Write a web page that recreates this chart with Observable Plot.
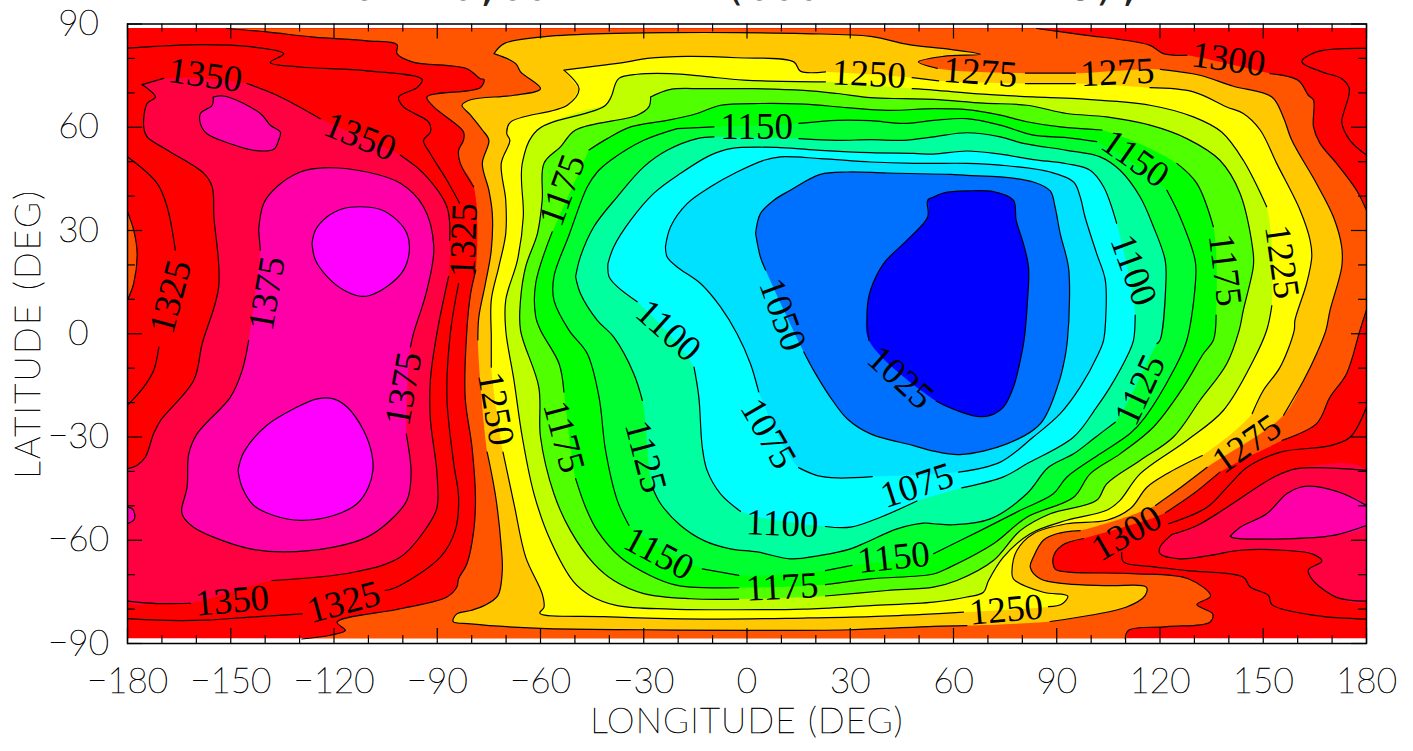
<!DOCTYPE html>
<html><head><meta charset="utf-8">
<style>html,body{margin:0;padding:0;background:#fff}svg{display:block}
[aria-label$="tick label"] text,[aria-label$="tick label"]{stroke:#000;stroke-width:.5px}
.axis-x-title text{letter-spacing:1.2px;stroke:#000;stroke-width:.5px}.axis-y-title text{letter-spacing:2.3px;stroke:#000;stroke-width:.5px}</style>
<script src="https://cdn.jsdelivr.net/npm/d3@7"></script>
<script src="https://cdn.jsdelivr.net/npm/@observablehq/plot@0.6"></script>
</head><body><div id="chart"></div>
<script>
const G = null; // a break in the drawn contour line (label gap or plot edge)
const c1025 = [[54.2,39.7],[57.1,40.9],[63.9,41.5],[71.6,41.3],[77.4,38.8],[78.2,33],[80.3,26.2],[81.8,19.4],[81.5,9.7],[80.5,-1.9],[79.6,-6.8],[77.4,-15.5],[74.5,-21.3],[70.7,-23.7],[66.8,-24],[61,-22.3],[55,-19.6],G,[35.4,-1.9],[34.9,6.9],[35.9,12.7],[39.7,20.4],[46.5,27.2],[52.5,33.9],[52.5,38.8]];
const c1050 = [[2.5,29.1],[3.9,34.9],[7.8,38.8],[12.6,41.7],[21.3,46.3],[29.1,47],[40.7,46.7],[59.1,46.3],[63.9,46],[73.6,45.6],[83.2,44.1],[88.1,41.5],[89.5,36.9],[91,29.1],[93.4,19.4],[93.7,9.7],[93.1,-1.9],[92.4,-6.8],[90.5,-14.5],[85.2,-26.2],[75.5,-32],[61.9,-35.1],[54.2,-34.1],[48.4,-32.5],[35.9,-29.1],[29.1,-24.7],[24.2,-18.4],[19.4,-10.7],[16.5,-5.3],G,[5.4,18.5],[3.9,22.3]];
const c1075 = [[-23.7,25.3],[-22.2,31.1],[-17.4,37.8],[-10.6,42.7],[-2.9,47],[4.9,50.4],[9.7,51.4],[21.3,50.9],[35.9,49.9],[48.5,49.5],[54.2,49.5],[63.9,49.5],[73.6,49],[88.1,47],[94.9,44.1],[96.8,39.8],[98.2,34],[101.6,23.3],[104.1,15.6],[104.2,3.9],[103.6,-1.9],[102.1,-5.8],[96.8,-15.5],[91,-23.2],[83.2,-30],[73.6,-37.3],[61.5,-40.2],G,[36.4,-41.5],[26.2,-41.9],[20.4,-41.2],[15,-38.9],G,[3.4,-16.9],[1,-8.7],[-2.9,0],[-7.7,7.8],[-13.5,14.6],[-20.3,19.4],[-23.2,22.3]];
const c1100 = [[-40.4,20.4],[-38.7,25.3],[-33.8,33],[-27.1,40.8],[-19.3,46.6],[-10.6,51.9],[-4.8,53.8],[9.7,54.1],[21.3,53.3],[35.9,52.6],[48.5,52.4],[54.2,52.2],[63.9,53.1],[73.6,52.2],[83.2,50.6],[92.9,49.4],[99.7,47.5],[103.6,42.7],[107.4,32.1],G,[112.8,5.4],[112.3,-1.9],[110.8,-5.8],[105.5,-15.5],[101.6,-21.3],[94.9,-30],[81.3,-37.8],[74.5,-41.6],[62.4,-44.8],G,[49.4,-48.6],[38.8,-53.3],[30.1,-56.2],[22.8,-56],G,[-1.9,-51.6],[-7.7,-46.5],[-11.6,-39.7],[-13,-32.9],[-14,-18.4],[-15.4,-9.7],G,[-31.9,9.3],[-37.7,13.7],[-40.1,16.6]];
const c1125 = [[-49.8,16.6],[-48.4,22.4],[-44.5,31.1],[-37.7,39.8],[-30,48.5],[-23.2,53.3],[-14.5,56.7],[-9.6,57.2],G,[15.1,56.7],[26.2,56.2],[35.9,56.4],[45.5,56.2],[54.2,57.2],[63.9,58.4],[73.6,57.2],[80.3,55.3],[92.9,53.3],[102.6,51.4],[108.4,47.5],[114.2,39.8],[118.1,31.1],[121.5,21.4],[121.7,14.6],[120,-1.9],[119.1,-2.9],G,[107,-25.7],[100.7,-30.5],[94.9,-34.9],[87.6,-38.8],[81.3,-46.5],[70.7,-53.8],[60,-55.5],[54.2,-55.2],[51.3,-55],[43.6,-56.7],[34.9,-60.5],[30.1,-62.5],[21.3,-64.4],[12.6,-65.4],[3,-63.4],[-4.8,-62.5],[-12.5,-60.1],[-19.3,-55.7],[-25.1,-49.4],[-27.5,-44.6],G,[-30.4,-19.4],[-32.9,-11.6],[-38.7,-1],[-43.5,3.9],[-48.4,11.7]];
const c1150 = [[-20.3,59.6],[-9.6,60.1],G,[15.1,61.1],[26.2,62],[35.9,61.9],[45.5,61.1],[54.2,62],[63.9,62.5],[73.6,60.6],[83.2,57.7],[92.9,57],[101.6,55.8],G,[122,41.7],[125.8,34],[130.2,21.4],[130.4,16.6],[127.8,-1.9],[123.9,-10.7],[115.7,-24.2],[111.3,-29],[102.6,-34.9],[92.9,-41.7],[89,-46.5],[79.4,-51.3],[67.8,-57.2],[54.2,-63.9],G,[30.5,-67.3],[22.8,-68.8],G,[-2.4,-70.2],[-13,-68.3],G,[-34.3,-55.7],[-37.7,-48.4],[-41.1,-33.9],[-43,-18.4],[-46.4,-5.8],[-51.7,1],[-56.1,9.8],[-56.1,16.6],[-51.7,28.7],[-46.4,42.7],[-43.5,47],[-39.6,50.4],[-30,56.2]];
const c1175 = [[-45.9,53.4],[-40.6,56.7],[-33.8,60.1],[-23.2,62],[-14.5,64],[-7.7,66.4],[3.9,66.9],[16.5,66.7],[29.1,65.7],[40.7,64.9],[54.2,65.4],[63.9,65.1],[73.6,63.5],[81.3,61.6],[91,60.1],[103.1,59.2],G,[124.9,49.5],[130.7,43.7],[135.5,31.1],G,[136.3,5.4],[135.5,-1.9],[132.6,-5.8],[126.8,-15.5],[118.1,-27.1],[108.4,-34.9],[99.7,-40.7],[94.9,-47.5],[81.3,-53.3],[71.6,-61],[59,-67.8],[54.2,-69.8],[35.9,-71.2],[22.8,-72.9],G,[-2.4,-73.8],[-16.4,-73.6],[-21.2,-72.9],[-28,-70.3],[-36.7,-65],[-43.5,-57.2],[-46.9,-50.4],[-49.8,-42.1],G,[-53.2,-16.9],[-54.6,-8.7],[-60,1],[-61.4,5],[-61.4,14.6],[-56.6,29.6],G];
const c1200 = [[-28,68.8],[-22.2,71],[-12.5,71.2],[2,71.2],[16.5,70.7],[26.2,69.8],[35.9,68.6],[45.5,68.3],[54.2,68.1],[68.7,67],[81.3,66.4],[92.9,64],[104.5,63],[117.1,60.6],[127.8,56.7],[137.4,50.4],[143.3,40.7],[147.1,23.3],[147.1,19.4],[144.2,6.8],[143,1],[139.4,-8.7],[131.6,-19.4],[123.9,-30],[114.2,-36.8],[104.5,-43.6],[101.6,-48.4],[88.1,-52.3],[79.4,-57.2],[71.6,-65.9],[61,-71.7],[54.2,-73.6],[40.7,-74.6],[22.8,-76.2],G,[-2.4,-77.1],[-16.4,-77],[-30,-75.5],[-38.7,-71.7],[-44.5,-66.8],[-51.3,-57.2],[-56.1,-46.5],[-60,-30],[-60.5,-15.5],[-65.8,1],[-65.8,9.8],[-64.3,19.5],[-60.9,29.1],[-59.5,38.8],[-59,49.5],[-54.2,54.3],[-49.8,59.2],[-31.9,63.5],[-28.5,65.9]];
const c1225 = [[-38.7,71.2],[-37.2,74.2],[-31.9,75.4],[-22.2,75.6],[-12.5,74.8],[-0.9,73.7],[22.8,73.2],G,[48,71.2],[54.2,70.8],[68.7,69.6],[83.2,68.8],[95.8,68.3],[117.1,66.4],[129.7,63],[137.9,58.6],[144.2,50.4],[151,36.9],G,[152.5,8.2],[151,1],[147.1,-7.8],[138.4,-22.3],[127.8,-31],[114.2,-40.7],[108.4,-48.4],[104.5,-51.3],[92.9,-54.2],[82.3,-58.1],[74.5,-64.9],[70.2,-71.7],[68.7,-75.1],[63.9,-76.5],[54.2,-78],[35.9,-79],[16.5,-80],[-2.9,-80.2],[-22.2,-80],[-37.7,-79],[-45.5,-76.1],[-50.3,-72.2],[-57.1,-60.1],[-61.9,-46.5],[-65.3,-30],[-67.7,-13.6],[-70.1,1],[-70.1,9.8],[-66.7,21.4],[-65,34],[-65.3,49.5],[-60.9,59.2],[-41.1,66.4]];
const c1250 = [[-53.2,76.6],[-34.8,79],[-29,80],[-17.4,80.6],[-2.9,80.2],[13.6,79],[15.5,76.3],[22.8,76.1],G,[48,74.4],[55.7,73.5],G,[80.9,72.7],[95.4,72.7],G,[117.1,71.5],[129.7,70.3],[139.4,65.9],[144.2,64],[149.1,59.2],[153.9,49.5],[160.7,35.9],[163.6,27.2],[164.1,22.4],[162.6,14.6],[159.2,3.9],[159,1],[154.9,-9.7],[150,-16.5],[146.8,-23.2],G,[132.3,-35.4],[122,-40.7],[116.2,-44.6],[111.4,-50.8],[104.5,-54.2],[92.9,-55.2],[83.2,-58.1],[78.4,-63],[77,-68.8],[77.4,-71.2],[86.1,-75.1],[93.2,-76.2],[91.5,-78.5],[87.6,-79.3],G,[62.9,-80.9],[54.2,-81.4],[35.9,-82.2],[16.5,-82.6],[-12.5,-82.9],[-41.6,-82.2],[-60.2,-81.2],[-59,-79.5],[-59.5,-75.6],[-64.3,-64.9],[-67.7,-49.4],[-70.9,-34.4],G,[-74.3,-9.7],[-74.3,-1],[-74.3,9.8],[-72.1,19.5],[-70.1,29.1],[-70.1,38.8],[-71.4,49.5],[-68.9,56.2],[-69.8,58.2],[-68.7,61.5],[-52.2,66.4],[-48.8,71.2]];
const c1275 = [[-73.5,81.4],[-70.6,84.3],[-60,86.2],[-41.6,87.2],[-22.2,87.5],[-2.9,87.5],[16.5,87.2],[35.9,86.4],[45.5,84.3],[48.4,83.8],[59.1,82.6],[67.8,81.2],[57.1,80.6],[49.8,79],[55.3,77.1],G,[80.9,75.7],[95.4,75.7],G,[120.1,76.8],[131.6,75.1],[141.3,71.9],[152.5,68.8],[155.8,63],[158.3,56.2],[165.5,43.6],[170.4,33.9],[172.8,25.2],[172.8,19.4],[169.4,6.8],[168.2,1],[165.5,-5.8],[161.7,-13.6],[155.9,-23.7],G,[133.7,-38.8],[124.9,-45.5],[118.7,-49.9],G,[96.8,-57.2],[90,-58.1],[86.1,-60],[83.2,-64.9],[82.3,-67.8],[85.2,-71.2],[92.9,-72.7],[105.5,-73.2],[116,-73.6],[115.7,-76],[110.3,-79.4],[99.7,-81.8],[88.1,-83.6],G,[63.9,-84.8],[54.2,-85],[29.9,-86],[0,-86.2],[-30,-86],[-60,-85.6],[-80.3,-84.3],[-85.4,-83.6],[-84.3,-81.4],[-80.3,-80.4],[-76.4,-79],[-72.4,-76.1],[-71.1,-68.8],[-71.4,-62],[-73,-47.5],[-75.5,-34.4],G,[-78.2,-1.8],[-77.9,5],[-76,14.6],[-74.3,24.3],[-74,34.9],[-75,41.7],[-76.9,49.5],[-75,56.2],[-76.9,59.2],[-80.3,63.5],[-82.8,66.4],[-80.3,68],[-67.7,69.3],[-60,71.2],[-65.8,76.1],[-67.2,78.5]];
const c1300 = [[-151.1,88.7],[-139.5,87.7],[-125.9,86.2],[-110.4,85.1],[-101.7,84],[-101.7,81.4],[-97.3,79],[-81.4,77],[-77.5,74.1],[-76.4,73.9],[-77.5,71.5],[-93,68.8],[-91,65.9],[-82.4,58.7],[-82.4,56.2],[-83.8,53.3],[-83.3,49.5],[-79.4,42.7],G,[-78.8,18.5],[-80.3,11.7],[-81.4,1],[-81.9,-18.4],[-79.9,-33],[-78.9,-47.5],[-79.4,-57.2],[-81.4,-66.9],[-83.8,-71.2],[-84.3,-73.6],[-87.2,-76.5],[-100.7,-79.9],[-119.1,-83.8],[-116.7,-86.2],[-121.1,-87.6],[-129.3,-88.7],G,[109.9,-88.7],[110.8,-86.2],[122,-85.1],[134.5,-83.8],[135.3,-81.4],[130.7,-78.7],[134.7,-76.2],[128.2,-71.2],[112.3,-69.7],[92.9,-69.2],[89.5,-68.3],[89,-64.9],[91.5,-61.5],[97.8,-59.5],G,[121.6,-52],[129.7,-46.5],[137.4,-40.2],G,[155.5,-31],[165.5,-26.1],[169.4,-18.4],[174.2,-11.6],[178.1,1],[180,6.9],G,[180,35.9],[177.1,41.7],[171.3,49.5],[166.5,55.3],[164.6,60.1],[164.6,67.9],[163.1,69.3],[160.2,73.6],[152,75.6],G,[127.8,80.9],[121,81.4],[117.1,83.8],[108.4,85.5],[98.7,86.7],[84.2,88.7]];
const c1300west = [[-180,35.4],[-178.2,30.1],[-177.2,23.3],[-178.2,14.6],[-180,9.8]];
const c1325a = [[-180,83],[-158.8,84],[-144.3,83.4],[-134.6,81.4],[-138.5,78.8],[-129.8,77.5],[-110.4,76.4],[-94.4,73.9],[-95.9,71.5],[-101.2,68.8],[-99.8,65.9],[-92.5,61.5],[-92,58.6],[-94,56.2],[-92,52.3],[-87.2,44.6],[-83.5,37.9],G,[-83.8,14.6],[-86.2,0.1],[-87.2,-18.4],[-85.2,-37.8],[-83.8,-47.5],[-84.8,-57.2],[-89.1,-64.9],[-101.7,-73.6],[-105.1,-74.6],G,[-129.3,-81.4],[-145.3,-82.4],[-156.9,-83.2],[-168.5,-83.3],[-180,-82.8]];
const c1325b = [[-180,51.4],[-171.4,43.7],[-168.5,36.9],[-166.1,24.3],G,[-170.9,-3.9],[-172.4,-10.7],[-175.3,-15.5],[-180,-20.8]];
const c1325c = [[180,82.9],[165.5,81.9],[161.2,79],[167,76.1],[172.8,74.1],[175,71.2],[173.3,64],[172.8,61.5],[175.2,56.2],[180,51.9]];
const c1325d = [[180,-21.3],[175.3,-30],[169.5,-32.5],[155,-34.4],[145.3,-38.8],[140.4,-43.6],[133.7,-50.4],[122.5,-55.2],G,[108.9,-63.5],[109.4,-66.3],[117.1,-67.6],[127.8,-68.8],[144.2,-70.7],[146.2,-73.6],[151.5,-76],[152.5,-78.7],[165.5,-81.9],[180,-82.9]];
const c1350w = [[-175.8,72.4],[-169.5,74.2],G,[-145.3,72.7],[-136.6,69.3],[-124,62.5],G,[-100.7,51.9],[-94,46.6],[-87.2,36.9],[-86.4,27.2],G,[-86.7,16.6],[-90.1,0.1],[-92,-13.5],[-92,-24.8],[-90.1,-40.3],[-90.1,-50.6],[-93,-56.2],[-100.7,-64.9],[-114.3,-69.3],[-138,-71.7],G,[-161.7,-78.3],[-171.4,-78.4],[-180,-77.7],G,[-180,-39.2],[-177.2,-38.2],[-174.8,-35.8],[-172.4,-29],[-170.4,-25.2],[-160.8,-13.6],[-158.3,-2.9],[-153.5,13.7],[-154.9,34],[-155.4,42.7],[-157.8,46.6],[-168.5,53.4],[-174.3,57.2],[-175.3,60.1],[-174.3,66.9],[-171.9,68.8]];
const c1350e = [[123.5,-58.3],[130.8,-55.7],[139.5,-50.4],[153,-41.7],[159.8,-39.2],[180,-39.7],G,[180,-77.7],[171.3,-76.6],[164.1,-71.2],[163.1,-68.6],[167,-66.1],[164.6,-64.1],[155.8,-62.9],[143.3,-62.9],[134.6,-64.4],[125.8,-65.4],[120,-63.9],[120,-62]];
const c1375w = [[-141.9,30.1],[-140.4,37.9],[-136.6,42.7],[-129.8,47],[-123,48.2],[-110.4,47],[-100.7,43.7],[-94,36.9],[-91,25.3],[-93,12.7],[-96.9,0.1],[-97.8,-3.9],G,[-99,-29.1],[-97.6,-40.7],[-98.8,-48.4],[-103.6,-54.2],[-110.4,-59.1],[-120.1,-62],[-134.6,-63.4],[-144.3,-62.5],[-155,-59.1],[-160.8,-56.2],[-163.7,-53.3],[-164.3,-51.4],[-162.7,-44.6],[-162.2,-34.9],[-159.8,-29.1],[-150.1,-18.4],[-146.7,-10.7],[-144.8,-1.9],G,[-141.4,24.3]];
const c1375n = [[-155.1,68.8],[-151.6,69],[-141.4,64],[-138.5,60.6],[-135.6,58.6],[-136.1,56.2],[-137.5,53.6],[-143.3,53.3],[-150.1,55.2],[-156.9,58.1],[-158.8,61],[-158.8,64],[-155.4,66.4]];
const c1375edge = [[-180,-50.3],[-178.4,-51.1],[-178,-53.8],[-180,-55.2]];
const c1375e = [[140.4,-58.8],[143.3,-56.2],[151,-52.3],[156.8,-46.5],[160.7,-44.6],[165.5,-44.4],[173.3,-46.5],[180,-49.9],G,[180,-55.7],[170.4,-58.6],[155.8,-59.6],[141.3,-59.3]];
const c1400n = [[-126.4,26.2],[-125.4,30.1],[-122,34],[-117.2,36.4],[-112.4,36.9],[-106.5,36.1],[-101.7,33],[-98.8,29.1],[-98.1,24.3],[-99.8,18.5],[-104.6,13.7],[-109.4,11.2],[-112.4,10.9],[-117.2,12.7],[-122,16.6],[-125.4,21.4]];
const c1400s = [[-147.9,-39.7],[-146.2,-34.4],[-139.5,-26.6],[-131.7,-21.8],[-124.9,-18.9],[-120.1,-18.9],[-116.2,-21.3],[-111.4,-28.1],[-109,-34.9],[-108.7,-39.7],[-110,-44.6],[-113.3,-49.4],[-120.1,-52.8],[-129.8,-54.2],[-137.5,-52.8],[-143.3,-49.9],[-146.7,-44.6]];

// painted in this order: [contour, band colour, closed?]
const layers = [
  [c1350w,"#ff0040",true],[c1350e,"#ff0040",true],
  [c1375w,"#ff00a8",true],[c1375n,"#ff00a8",true],[c1375edge,"#ff00a8",false],[c1375e,"#ff00a8",true],
  [c1400n,"#ff00ff",true],[c1400s,"#ff00ff",true],
  [c1300west,"#ff5500",false],[c1300,"#ff5500",false],
  [c1275,"#ffc800",true],[c1250,"#ffff00",true],[c1225,"#c0ff00",true],[c1200,"#50ff00",true],
  [c1175,"#00ff00",true],[c1150,"#00ff30",true],[c1125,"#00ff9f",true],[c1100,"#00ffff",true],
  [c1075,"#00e0ff",true],[c1050,"#0070ff",true],[c1025,"#0000ff",true]
];
const lineOnly = [c1325a,c1325b,c1325c,c1325d];

const labelText = ["1350","1350","1325","1375","1325","1375","1350","1325","1250","1175","1150","1250","1275","1275","1300","1150","1100","1050","1025","1075","1125","1175","1100","1175","1225","1125","1275","1300","1250","1075","1100","1150","1175","1150"];
const labelLon  = [-157.4,-112.4,-167.5,-139.5,-82.3,-99.8,-149.6,-117.2,-73,-53.7,2.8,35.4,67.8,107.6,139.9,112.8,-22.8,10.3,44.6,6.2,-29.5,-53.2,112.3,138.9,155.4,114.2,145.2,110.3,75.3,49.4,10.2,-25.6,10.2,42.6];
const labelLat  = [75.1,57.2,10.7,11.7,27.2,-16,-77.6,-78,-21.8,41.7,60.1,75.4,75.9,75.9,79.7,50.9,0.9,5.6,-12.7,-29,-35.7,-29.9,18.5,18.5,20.9,-16.3,-32,-58,-80.2,-44.1,-55.2,-63.9,-73.6,-65];
const labelAngle= [8,22,-75,-80,-88,-80,-5,-15,80,-70,0,3,4,-3,8,35,42,70,42,60,75,75,70,83,82,-65,-35,-30,-5,-18,2,28,-3,-6];

const fieldEdge = 88.7;
const majorLon = d3.range(-180,181,30);
const minorLon = d3.range(-180,181,10).filter(d=>d%30!==0);
const majorLat = d3.range(-90,91,30);
const minorLat = d3.range(-90,91,10).filter(d=>d%30!==0);
const majorLen = 4.36, minorLen = 2.3;
const xTitle = "LONGITUDE (DEG)", yTitle = "LATITUDE (DEG)";
const titleText = "O   0,00 Z    T(000 MHE HM  DU),";

const solid = c => c.filter(Boolean);
const broken = ([c,,closed]) => {
  const r = c.map(p => p ? {x:p[0],y:p[1]} : {x:NaN,y:NaN});
  if (closed && c[0] && c[c.length-1]) r.push({x:c[0][0],y:c[0][1]});
  if (closed && !c[c.length-1]) r.pop();
  return r;
};
const curve = "catmull-rom";
const sw = 1.2;
const axisFont = {fontFamily:"Lato, 'Liberation Sans', sans-serif", fontWeight:100, fontSize:35, fill:"black"};
const signed = d => d<0 ? "\u2212"+(-d) : ""+d;

const tickRules = (lonTicks, latTicks, len) => [
  Plot.ruleX(lonTicks,{x:d=>d,y1:-90,y2:-90+len,stroke:"black",strokeWidth:sw}),
  Plot.ruleX(lonTicks,{x:d=>d,y1:90,y2:90-len,stroke:"black",strokeWidth:sw}),
  Plot.ruleY(latTicks,{y:d=>d,x1:-180,x2:-180+len,stroke:"black",strokeWidth:sw}),
  Plot.ruleY(latTicks,{y:d=>d,x1:180,x2:180-len,stroke:"black",strokeWidth:sw})
];

const marks = [
  Plot.rect([0],{x1:-180,x2:180,y1:-fieldEdge,y2:fieldEdge,fill:"#ff0000"}),
  ...layers.map(([c,color]) => Plot.line(solid(c),{x:d=>d[0],y:d=>d[1],fill:color,stroke:"none",curve,clip:"frame"})),
  Plot.rect([0],{x1:-180,x2:180,y1:fieldEdge,y2:90,fill:"white"}),
  Plot.rect([0],{x1:-180,x2:180,y1:-90,y2:-fieldEdge,fill:"white"}),
  ...layers.map(l => Plot.line(broken(l),{x:"x",y:"y",stroke:"black",strokeWidth:sw,curve,clip:"frame"})),
  ...lineOnly.map(c => Plot.line(broken([c]),{x:"x",y:"y",stroke:"black",strokeWidth:sw,curve,clip:"frame"})),
  Plot.text(labelText,{x:(d,i)=>labelLon[i],y:(d,i)=>labelLat[i],rotate:(d,i)=>labelAngle[i],text:d=>d,
    fontFamily:"'Liberation Serif', serif",fontSize:37,fill:"black",textAnchor:"middle",lineAnchor:"middle"}),
  Plot.frame({stroke:"black",strokeWidth:1.5}),
  Plot.axisX({anchor:"bottom",ticks:majorLon,tickSize:0,tickPadding:25,tickFormat:signed,label:null,...axisFont}),
  Plot.axisY({anchor:"left",ticks:majorLat,tickSize:0,tickPadding:49,textAnchor:"middle",tickFormat:signed,label:null,...axisFont}),
  Plot.text([xTitle],{frameAnchor:"bottom",dy:78,text:d=>d,lineAnchor:"middle",className:"axis-x-title",...axisFont}),
  Plot.text([yTitle],{frameAnchor:"left",dx:-99,rotate:-90,text:d=>d,lineAnchor:"middle",textAnchor:"middle",className:"axis-y-title",...axisFont}),
  Plot.text([titleText],{frameAnchor:"top",dy:-24,text:d=>d,lineAnchor:"bottom",fontFamily:"'DejaVu Sans Mono', monospace",fontSize:41,fill:"#222"}),
  ...tickRules(majorLon,majorLat,majorLen),
  ...tickRules(minorLon,minorLat,minorLen)
];

const plot = Plot.plot({
  width:1413,height:751,
  marginLeft:127,marginRight:47,marginTop:23.5,marginBottom:108,
  x:{domain:[-180,180]},
  y:{domain:[-90,90]},
  style:{background:"white",color:"black"},
  marks
});
document.getElementById("chart").append(plot);
</script></body></html>
